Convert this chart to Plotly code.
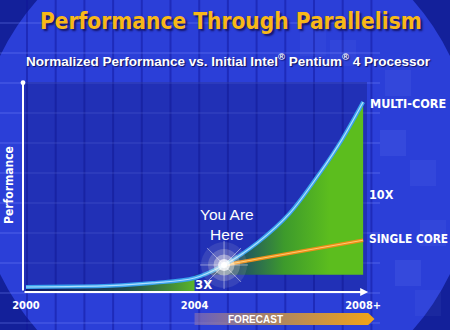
import plotly.graph_objects as go

W, H = 450, 330

# ---------------- data ----------------
years = [2000, 2001, 2002, 2003, 2004, 2004.7, 2005.5, 2006.25, 2007, 2007.5, 2008]
multi_core = [1.0, 1.1, 1.3, 1.9, 3.0, 5.9, 10.9, 17.3, 26.7, 33.8, 42.1]
single_years = [2004.7, 2008]
single_core = [5.9, 11.4]
tick_years = [2000, 2004, 2008]
tick_labels = ["2000", "2004", "2008+"]
you_are_here_year = 2004.7
you_are_here_value = 5.9
forecast_from = 2004
forecast_to = 2008
forecast_floor = 3.7

COND = "DejaVu Sans Condensed, Liberation Sans Narrow, Arial Narrow, sans-serif"
SANS = "Liberation Sans, Arial, sans-serif"


def px(x):
    return x / W


def py(y):
    return 1 - y / H


fig = go.Figure()

# --- green fill, history part (to zero) ---
n_hist = years.index(forecast_from) + 1
fig.add_trace(go.Scatter(
    x=years[:n_hist], y=multi_core[:n_hist], mode="lines", line=dict(width=0, shape="spline"),
    fill="tozeroy",
    fillgradient=dict(type="horizontal", start=2000.3, stop=2004,
                      colorscale=[[0, "rgba(10,20,70,0.7)"], [0.55, "rgba(30,80,60,0.85)"],
                                  [1, "#5ab52a"]]),
    hoverinfo="skip", showlegend=False))

# --- green fill, forecast part (to floor) ---
i0 = years.index(forecast_from)
fig.add_trace(go.Scatter(
    x=[forecast_from, forecast_to], y=[forecast_floor, forecast_floor], mode="lines",
    line=dict(width=0), hoverinfo="skip", showlegend=False))
fig.add_trace(go.Scatter(
    x=years[i0:], y=multi_core[i0:], mode="lines", line=dict(width=0, shape="spline"),
    fill="tonexty",
    fillgradient=dict(type="horizontal", start=2004.5, stop=2007.2,
                      colorscale=[[0, "#1d3a70"], [0.2, "#1f4d68"], [0.6, "#3d9a2c"],
                                  [1, "#5cbd1e"]]),
    hoverinfo="skip", showlegend=False))

# --- single core line ---
fig.add_trace(go.Scatter(x=single_years, y=single_core, mode="lines",
                         line=dict(color="#ee8e18", width=3.6), hoverinfo="skip", showlegend=False))
fig.add_trace(go.Scatter(x=single_years, y=single_core, mode="lines",
                         line=dict(color="#ffcc70", width=1), hoverinfo="skip", showlegend=False))

# --- multi core line ---
fig.add_trace(go.Scatter(x=years, y=multi_core, mode="lines",
                         line=dict(color="#3aa3ee", width=4, shape="spline"),
                         hoverinfo="skip", showlegend=False))
fig.add_trace(go.Scatter(x=years, y=multi_core, mode="lines",
                         line=dict(color="#b0e0ff", width=1.2, shape="spline"),
                         hoverinfo="skip", showlegend=False))

# --- "you are here" glow ---
for size, op, col in [(46, 0.10, "#fff4e0"), (32, 0.2, "#fff4e0"), (21, 0.4, "#fffaf0"),
                      (12, 0.75, "white"), (6, 1.0, "white")]:
    fig.add_trace(go.Scatter(x=[you_are_here_year], y=[you_are_here_value], mode="markers",
                             marker=dict(size=size, color=col, opacity=op, line=dict(width=0)),
                             hoverinfo="skip", showlegend=False))
fig.add_trace(go.Scatter(x=[you_are_here_year], y=[you_are_here_value], mode="markers",
                         marker=dict(size=40, symbol="asterisk-open", color="white", opacity=0.45,
                                     line=dict(width=1, color="white")),
                         hoverinfo="skip", showlegend=False))

# --- forecast bar (own y axis under the x axis) ---
fig.add_trace(go.Scatter(
    x=[forecast_from, forecast_to + 0.12, forecast_to + 0.27, forecast_to + 0.12, forecast_from,
       forecast_from],
    y=[0, 0, 0.5, 1, 1, 0], mode="lines", line=dict(width=0), fill="toself",
    fillgradient=dict(type="horizontal", start=forecast_from, stop=forecast_to + 0.27,
                      colorscale=[[0, "rgba(150,120,170,0.55)"], [0.35, "#a08070"],
                                  [1, "#f2a416"]]),
    xaxis="x", yaxis="y2", hoverinfo="skip", showlegend=False))

# ---------------- background shapes ----------------
shapes = []
shapes.append(dict(type="circle", xref="paper", yref="paper",
                   x0=px(225 - 250), x1=px(225 + 250), y0=py(165 + 250), y1=py(165 - 250),
                   fillcolor="#2b3fd8", line=dict(width=0), layer="below"))
# die grid pattern
k = 0
while 27 + 28.7 * k < 380:
    xx = 27 + 28.7 * k
    shapes.append(dict(type="line", xref="paper", yref="paper", x0=px(xx), x1=px(xx),
                       y0=0, y1=1, line=dict(color="rgba(15,20,150,0.45)", width=2), layer="below"))
    k += 1
k = 0
while 23 + 30 * k < H:
    yy = 23 + 30 * k
    shapes.append(dict(type="line", xref="paper", yref="paper", x0=0, x1=px(380),
                       y0=py(yy), y1=py(yy),
                       line=dict(color="rgba(130,150,255,0.28)", width=1.5), layer="below"))
    k += 1
# checker squares on the right
for (cx, cy, a) in [(380, 130, 0.10), (410, 160, 0.08), (395, 260, 0.10), (420, 220, 0.07),
                    (330, 40, 0.06), (385, 70, 0.08), (415, 290, 0.06), (300, 30, 0.05)]:
    shapes.append(dict(type="rect", xref="paper", yref="paper", x0=px(cx), x1=px(cx + 26),
                       y0=py(cy + 26), y1=py(cy), fillcolor=f"rgba(150,170,255,{a})",
                       line=dict(width=0), layer="below"))
# darker chart panel
shapes.append(dict(type="rect", xref="paper", yref="paper", x0=px(23), x1=px(367),
                   y0=py(292), y1=py(82), fillcolor="rgba(15,20,120,0.35)",
                   line=dict(width=0), layer="below"))


# ---------------- annotations ----------------
def label(text, x, y, font, xanchor="center", **kw):
    d = dict(text=text, x=px(x), y=py(y), xref="paper", yref="paper", showarrow=False,
             xanchor=xanchor, yanchor="middle", font=font)
    d.update(kw)
    return d


ann = []
ann.append(label("Performance Through Parallelism", 231, 21,
                 dict(family=COND, size=22.5, color="#f8b818", weight="bold",
                      shadow="2px 2px 2px #15156a")))
ann.append(label("Normalized Performance vs. Initial Intel<sup>®</sup> Pentium<sup>®</sup> 4 Processor",
                 228, 60, dict(family=SANS, size=13.5, color="white", weight="bold",
                               shadow="1px 1px 1px #101060")))
ann.append(label("Performance", 9, 185, dict(family=COND, size=12, color="white", weight="bold"),
                 textangle=-90))
ann.append(label("MULTI-CORE", 368, 103, dict(family=COND, size=12.5, color="white", weight="bold"),
                 xanchor="left"))
ann.append(label("10X", 367, 194, dict(family=COND, size=12.5, color="white", weight="bold"),
                 xanchor="left"))
ann.append(label("SINGLE CORE", 367, 239, dict(family=COND, size=11.8, color="white", weight="bold"),
                 xanchor="left"))
ann.append(label("3X", 203, 284, dict(family=COND, size=13, color="white", weight="bold")))
ann.append(label("You Are<br>Here", 227, 225, dict(family=SANS, size=15.5, color="white")))
ann.append(label("FORECAST", 255, 319, dict(family=SANS, size=10, color="white", weight="bold")))
# axis arrows
ann.append(dict(x=2008.12, y=-0.11, ax=1999.93, ay=-0.11, xref="x", yref="y", axref="x", ayref="y",
                text="", showarrow=True, arrowhead=2, arrowsize=0.8, arrowwidth=2,
                arrowcolor="white"))
ann.append(dict(x=1999.93, y=46.4, ax=1999.93, ay=-0.11, xref="x", yref="y", axref="x", ayref="y",
                text="", showarrow=True, arrowhead=6, arrowsize=0.6, arrowwidth=2,
                arrowcolor="white"))

fig.update_layout(
    width=W, height=H, margin=dict(l=0, r=0, t=0, b=0, autoexpand=False),
    paper_bgcolor="#13209a", plot_bgcolor="rgba(0,0,0,0)",
    shapes=shapes, annotations=ann, showlegend=False,
    xaxis=dict(domain=[px(23), px(380)], range=[1999.93, 2008.40], showgrid=False, zeroline=False,
               showline=False, tickvals=tick_years, ticktext=tick_labels, ticks="",
               tickfont=dict(family=COND, size=11, color="white", weight="bold"),
               ticklabelstandoff=5, fixedrange=True, automargin=False),
    yaxis=dict(domain=[py(292), py(82)], range=[-0.11, 46.56], showgrid=False, zeroline=False,
               showline=False, showticklabels=False, ticks="", fixedrange=True, automargin=False),
    yaxis2=dict(domain=[py(325), py(313)], range=[0, 1], anchor="x", visible=False,
                fixedrange=True, automargin=False),
)

fig.write_html("out.html")
